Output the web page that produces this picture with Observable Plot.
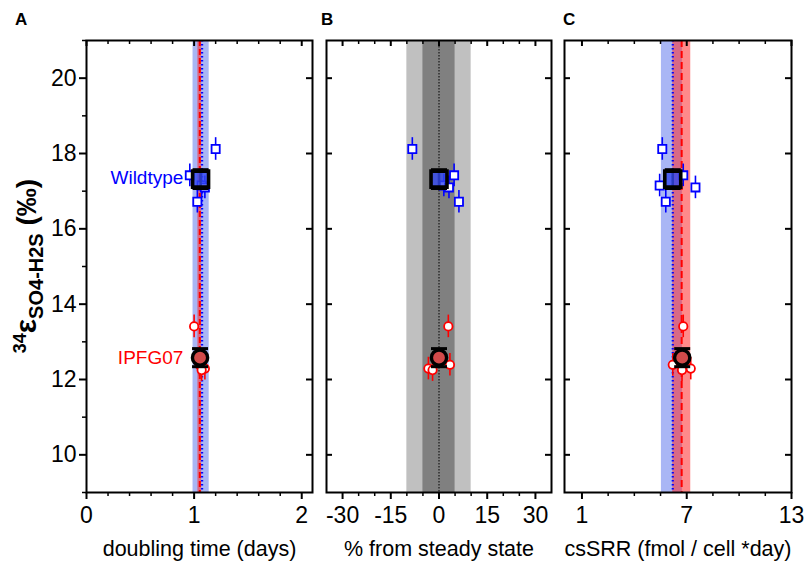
<!DOCTYPE html>
<html>
<head>
<meta charset="utf-8">
<script src="https://cdn.jsdelivr.net/npm/d3@7"></script>
<script src="https://cdn.jsdelivr.net/npm/@observablehq/plot@0.6"></script>
<style>
  html, body { margin: 0; padding: 0; background: #fff; }
  #chart { position: relative; width: 806px; height: 562px; overflow: hidden; font-family: "Liberation Sans", Arial, sans-serif; }
  #chart .panel { position: absolute; top: 0; }
  #overlay { position: absolute; left: 0; top: 0; pointer-events: none; }
</style>
</head>
<body>
<div id="chart"></div>
<script>
// ---------------- data ----------------
const strainNames = ["Wildtype", "IPFG07"];
const strainColors = ["#0000ff", "#ff0000"];

// 34-epsilon (permil) of individual cultures
const wtEpsilon = [18.12, 17.42, 16.72, 17.15, 17.10];
const wtEpsilonErr = [0.30, 0.30, 0.30, 0.30, 0.30];
const ipEpsilon = [13.41, 12.29, 12.39, 12.25];
const ipEpsilonErr = [0.30, 0.30, 0.30, 0.30];

// x values per panel
const wtDoubling = [1.20, 0.96, 1.03, 1.07, 1.10];
const ipDoubling = [1.00, 1.10, 1.05, 1.07];
const wtSteady = [-8.3, 4.7, 6.2, 1.5, 3.1];
const ipSteady = [2.9, -3.3, 3.4, -2.0];
const wtCsSRR = [5.6, 6.8, 5.8, 5.45, 7.5];
const ipCsSRR = [6.8, 7.23, 6.2, 6.73];

// strain means
const meanEpsilon = [17.32, 12.58];
const meanEpsilonErr = [0.25, 0.24];
const meanDoubling = [1.06, 1.055];
const meanSteady = [0, 0];
const meanCsSRR = [6.2, 6.74];

// shaded ranges and reference lines
const doublingBandLo = [0.99, 1.035];
const doublingBandHi = [1.14, 1.07];
const doublingLine = [1.074, 1.053];
const steadyBandLo = [-10, -5];
const steadyBandHi = [10, 5];
const steadyLine = [0];
const csSRRBandLo = [5.55, 6.2];
const csSRRBandHi = [6.75, 7.23];
const csSRRLine = [6.2, 6.71];

// axes
const yDomain = [9, 21];
const yMajorTicks = [10, 12, 14, 16, 18, 20];
const yMinorTicks = [9, 11, 13, 15, 17, 19, 21];
const doublingDomain = [0, 2.1];
const doublingMajor = [0, 1, 2];
const doublingMinor = [0.2, 0.4, 0.6, 0.8, 1.2, 1.4, 1.6, 1.8];
const steadyDomain = [-35, 35];
const steadyMajor = [-30, -15, 0, 15, 30];
const steadyMinor = [-25, -20, -10, -5, 5, 10, 20, 25];
const csSRRDomain = [0, 13];
const csSRRMajor = [1, 7, 13];
const csSRRMinor = [2.5, 4, 5.5, 8.5, 10, 11.5];

const xLabels = ["doubling time (days)", "% from steady state", "csSRR (fmol / cell *day)"];
const panelLetters = ["A", "B", "C"];

// ---------------- drawing ----------------
const H = 562, MT = 40, MB = 70;
const BLUE_BAND = "#6f86ee", RED_BAND = "#ff2a2a";

function pts(xs, ys, errs) {
  return xs.map((x, i) => ({x, y: ys[i], lo: ys[i] - errs[i], hi: ys[i] + errs[i]}));
}
const capSymbol = { draw(ctx) { ctx.moveTo(-8, 0); ctx.lineTo(8, 0); } };

function makePanel(cfg) {
  const fw = cfg.width - cfg.mL - cfg.mR;
  const fh = H - MT - MB;
  const wt = pts(cfg.wtX, wtEpsilon, wtEpsilonErr);
  const ip = pts(cfg.ipX, ipEpsilon, ipEpsilonErr);
  const means = cfg.meanX.map((x, i) => ({x, y: meanEpsilon[i], lo: meanEpsilon[i] - meanEpsilonErr[i], hi: meanEpsilon[i] + meanEpsilonErr[i]}));
  const marks = [...cfg.back];
  // individual cultures
  marks.push(
    Plot.ruleX(wt, {x: "x", y1: "lo", y2: "hi", stroke: strainColors[0], strokeWidth: 1.6}),
    Plot.dot(wt, {x: "x", y: "y", symbol: "square", r: 4.6, stroke: strainColors[0], fill: "white", strokeWidth: 1.8}),
    Plot.ruleX(ip, {x: "x", y1: "lo", y2: "hi", stroke: strainColors[1], strokeWidth: 1.6}),
    Plot.dot(ip, {x: "x", y: "y", symbol: "circle", r: 4.2, stroke: strainColors[1], fill: "white", strokeWidth: 1.8})
  );
  // means
  marks.push(
    Plot.ruleX(means, {x: "x", y1: "lo", y2: "hi", stroke: "black", strokeWidth: 2.5}),
    Plot.dot(means, {x: "x", y: "lo", symbol: capSymbol, stroke: "black", strokeWidth: 3}),
    Plot.dot(means, {x: "x", y: "hi", symbol: capSymbol, stroke: "black", strokeWidth: 3}),
    Plot.dot([means[0]], {x: "x", y: "y", symbol: "square", r: 9, fill: "#3348f0", fillOpacity: 0.8, stroke: "black", strokeWidth: 3.6}),
    Plot.dot([means[1]], {x: "x", y: "y", symbol: "circle", r: 7.6, fill: "#d24a4a", stroke: "black", strokeWidth: 3.4})
  );
  // frame
  marks.push(Plot.frame({stroke: "black", strokeWidth: 2}));
  // x ticks: inner top, outer bottom
  marks.push(
    Plot.tickX(cfg.xMajor, {x: d => d, insetBottom: fh - 6, stroke: "black", strokeWidth: 2}),
    Plot.tickX(cfg.xMinor, {x: d => d, insetBottom: fh - 4, stroke: "black", strokeWidth: 1.5}),
    Plot.tickX(cfg.xMajor, {x: d => d, insetTop: fh, insetBottom: -7, stroke: "black", strokeWidth: 2}),
    Plot.tickX(cfg.xMinor, {x: d => d, insetTop: fh, insetBottom: -4, stroke: "black", strokeWidth: 1.5}),
    Plot.text(cfg.xMajor, {x: d => d, text: d => String(d), frameAnchor: "bottom", lineAnchor: "top", dy: 14, fontSize: 23, fill: "black"}),
    Plot.text([cfg.xLabel], {text: d => d, frameAnchor: "bottom", lineAnchor: "bottom", dy: 63, fontSize: 21.5, fill: "black"})
  );
  // y ticks
  if (cfg.yAxis) {
    marks.push(
      Plot.tickY(yMajorTicks, {y: d => d, insetLeft: -7, insetRight: fw, stroke: "black", strokeWidth: 2}),
      Plot.tickY(yMinorTicks, {y: d => d, insetLeft: -4, insetRight: fw, stroke: "black", strokeWidth: 1.5}),
      Plot.text(yMajorTicks, {y: d => d, text: d => String(d), frameAnchor: "left", textAnchor: "end", dx: -10, fontSize: 23, fill: "black"})
    );
  } else {
    marks.push(Plot.tickY(yMajorTicks, {y: d => d, insetRight: fw - 6, stroke: "black", strokeWidth: 2}));
  }
  marks.push(Plot.tickY(yMajorTicks, {y: d => d, insetLeft: fw - 6, stroke: "black", strokeWidth: 2}));
  if (cfg.extra) marks.push(...cfg.extra);

  const svg = Plot.plot({
    width: cfg.width, height: H,
    marginTop: MT, marginBottom: MB, marginLeft: cfg.mL, marginRight: cfg.mR,
    x: {domain: cfg.xDomain, axis: null},
    y: {domain: yDomain, axis: null},
    style: {fontFamily: "'Liberation Sans', Arial, sans-serif", background: "transparent", overflow: "visible", color: "black"},
    marks
  });
  svg.classList.add("panel");
  svg.style.left = cfg.left + "px";
  return svg;
}

const bandA = doublingBandLo.map((lo, i) => ({lo, hi: doublingBandHi[i]}));
const bandB = steadyBandLo.map((lo, i) => ({lo, hi: steadyBandHi[i]}));
const bandC = csSRRBandLo.map((lo, i) => ({lo, hi: csSRRBandHi[i]}));

const chart = document.getElementById("chart");

chart.appendChild(makePanel({
  left: 0, width: 318, mL: 86, mR: 6,
  xDomain: doublingDomain, xMajor: doublingMajor, xMinor: doublingMinor, xLabel: xLabels[0],
  wtX: wtDoubling, ipX: ipDoubling, meanX: meanDoubling, yAxis: true,
  back: [
    Plot.rect([bandA[0]], {x1: "lo", x2: "hi", fill: BLUE_BAND, fillOpacity: 0.6}),
    Plot.rect([bandA[1]], {x1: "lo", x2: "hi", fill: RED_BAND, fillOpacity: 0.55}),
    Plot.ruleX([doublingLine[1]], {x: d => d, stroke: "#ff0000", strokeWidth: 2, strokeDasharray: "6,3"}),
    Plot.ruleX([doublingLine[0]], {x: d => d, stroke: "#0000ff", strokeWidth: 2.2, strokeDasharray: "1.5,2.5"})
  ],
  extra: [
    Plot.text([{t: strainNames[0], y: meanEpsilon[0]}], {x: () => 0.9, y: "y", text: "t", textAnchor: "end", fontSize: 19, fill: strainColors[0], dy: -1}),
    Plot.text([{t: strainNames[1], y: meanEpsilon[1]}], {x: () => 0.9, y: "y", text: "t", textAnchor: "end", fontSize: 19, fill: strainColors[1]})
  ]
}));

chart.appendChild(makePanel({
  left: 318, width: 240, mL: 8, mR: 7,
  xDomain: steadyDomain, xMajor: steadyMajor, xMinor: steadyMinor, xLabel: xLabels[1],
  wtX: wtSteady, ipX: ipSteady, meanX: meanSteady, yAxis: false,
  back: [
    Plot.rect([bandB[0]], {x1: "lo", x2: "hi", fill: "#c0c0c0"}),
    Plot.rect([bandB[1]], {x1: "lo", x2: "hi", fill: "#808080"}),
    Plot.ruleX(steadyLine, {x: d => d, stroke: "black", strokeWidth: 1, strokeDasharray: "1.5,1.5"})
  ]
}));

chart.appendChild(makePanel({
  left: 557, width: 249, mL: 7, mR: 15,
  xDomain: csSRRDomain, xMajor: csSRRMajor, xMinor: csSRRMinor, xLabel: xLabels[2],
  wtX: wtCsSRR, ipX: ipCsSRR, meanX: meanCsSRR, yAxis: false,
  back: [
    Plot.rect([bandC[0]], {x1: "lo", x2: "hi", fill: BLUE_BAND, fillOpacity: 0.6}),
    Plot.rect([bandC[1]], {x1: "lo", x2: "hi", fill: RED_BAND, fillOpacity: 0.55}),
    Plot.ruleX([csSRRLine[1]], {x: d => d, stroke: "#ff0000", strokeWidth: 2, strokeDasharray: "7,4"}),
    Plot.ruleX([csSRRLine[0]], {x: d => d, stroke: "#0000ff", strokeWidth: 2.2, strokeDasharray: "1.5,2.5"})
  ]
}));

// overlay: y-axis title and panel letters
const ov = d3.select(chart).append("svg").attr("id", "overlay").attr("width", 806).attr("height", H)
  .style("font-family", "'Liberation Sans', Arial, sans-serif");
const yt = ov.append("text").attr("transform", "translate(36,266) rotate(-90)")
  .attr("text-anchor", "middle").attr("font-weight", "bold").attr("fill", "black");
yt.append("tspan").attr("font-size", 18).attr("dy", -10).text("34");
yt.append("tspan").attr("font-size", 30).attr("dy", 10).text("ε");
yt.append("tspan").attr("font-size", 20).attr("dy", 7).text("SO4-H2S");
yt.append("tspan").attr("font-size", 28).attr("dy", -7).text(" (‰)");
const letterX = [15, 321, 563];
ov.selectAll("text.letter").data(panelLetters).join("text").attr("class", "letter")
  .attr("x", (d, i) => letterX[i]).attr("y", 25)
  .attr("font-size", 17).attr("font-weight", "bold").attr("fill", "black").text(d => d);
</script>
</body>
</html>
